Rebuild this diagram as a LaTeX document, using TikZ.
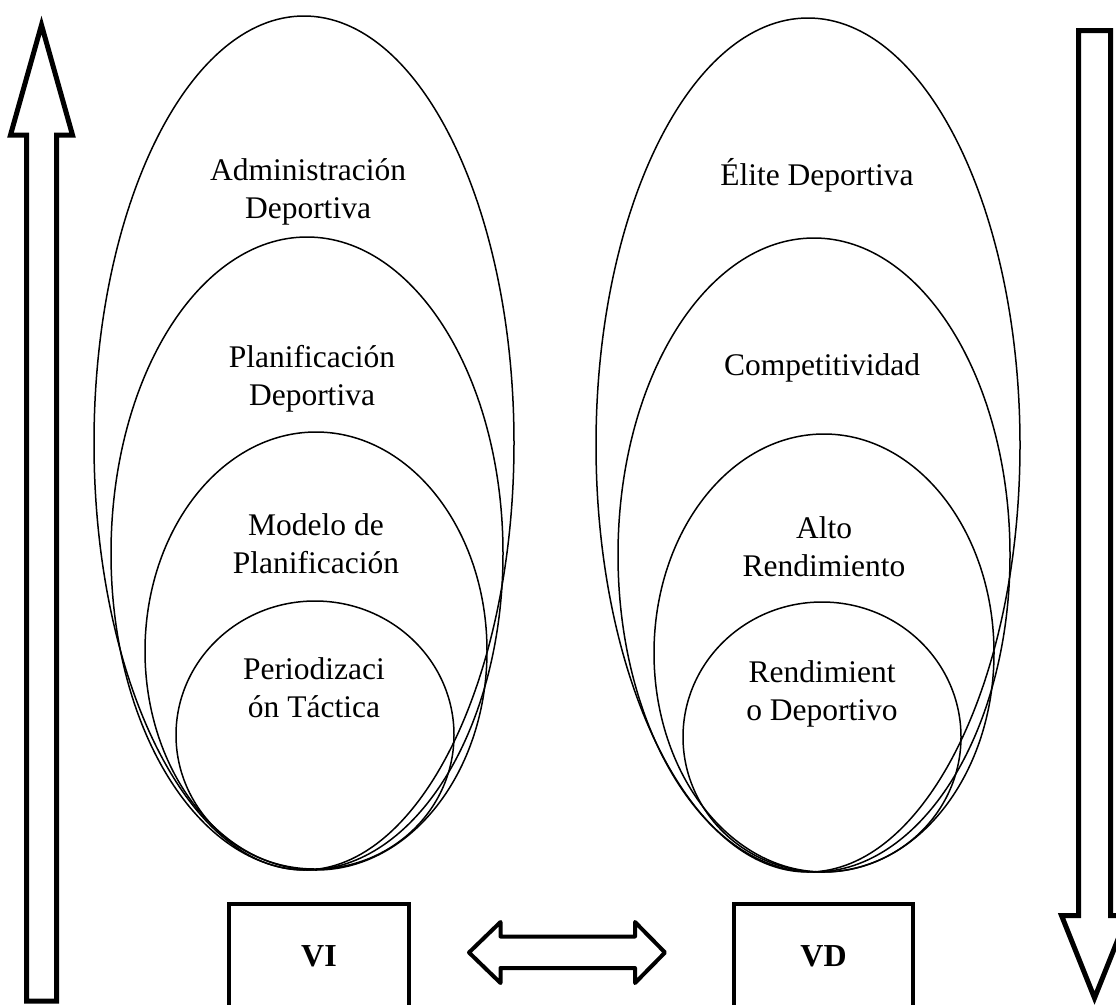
\documentclass[tikz,border=0pt]{standalone}
\usepackage{fontspec}
\setmainfont{Liberation Serif}
\begin{document}
\begin{tikzpicture}[x=1pt,y=-1pt,
  ell/.style={line width=1.5pt},
  blockarrow/.style={line width=5pt, line join=miter},
  dblarrow/.style={line width=4pt, line join=round},
  lbl/.style={font=\fontsize{31.5}{38}\selectfont, align=center, inner sep=0pt, anchor=base},
  varbox/.style={draw, line width=4.5pt, minimum width=180pt, minimum height=104pt, inner sep=0pt,
    font=\fontsize{32}{38}\selectfont\bfseries}]
\useasboundingbox (0,0) rectangle (1116,1004);
\clip (0,0) rectangle (1116,1004);
% left group of ellipses
\draw[ell] (304,443) ellipse [x radius=210, y radius=427];
\draw[ell] (307,553.5) ellipse [x radius=196, y radius=316.5];
\draw[ell] (316,651) ellipse [x radius=171, y radius=219];
\draw[ell] (315,735) ellipse [x radius=139, y radius=134];
% right group of ellipses
\draw[ell] (808,445) ellipse [x radius=212, y radius=427];
\draw[ell] (814,555) ellipse [x radius=196, y radius=317];
\draw[ell] (824,653) ellipse [x radius=170, y radius=219];
\draw[ell] (822,737) ellipse [x radius=139, y radius=135];
% labels (base anchor = baseline of last line)
\node[lbl] (admin) at (308,218) {Administración\\Deportiva};
\node[lbl] (plan) at (312,405) {Planificación\\Deportiva};
\node[lbl] (modelo) at (316,573) {Modelo de\\Planificación};
\node[lbl] (periodo) at (314,717) {Periodizaci\\ón Táctica};
\node[lbl] (elite) at (817,185) {Élite Deportiva};
\node[lbl] (compet) at (822,375) {Competitividad};
\node[lbl] (alto) at (824,576) {Alto\\Rendimiento};
\node[lbl] (rend) at (822,720) {Rendimient\\o Deportivo};
% boxes
\node[varbox] (vi) at (319,956) {VI};
\node[varbox, minimum width=179pt] (vd) at (823.5,956) {VD};
% double arrow
\draw[dblarrow] (469,952.5) -- (500.5,922) -- (500.5,936.5) -- (635,936.5) -- (635,922)
  -- (665,952.5) -- (635,983) -- (635,968) -- (500.5,968) -- (500.5,983) -- cycle;
% left up arrow
\draw[blockarrow] (26.5,1001) -- (26.5,135) -- (10.5,135) -- (41.5,25) -- (72.5,135)
  -- (56.5,135) -- (56.5,1001) -- cycle;
% right down arrow
\draw[blockarrow] (1078.5,30.5) -- (1078.5,915.5) -- (1061.5,915.5) -- (1094.5,998)
  -- (1127.5,915.5) -- (1110.5,915.5) -- (1110.5,30.5) -- cycle;
\end{tikzpicture}
\end{document}
